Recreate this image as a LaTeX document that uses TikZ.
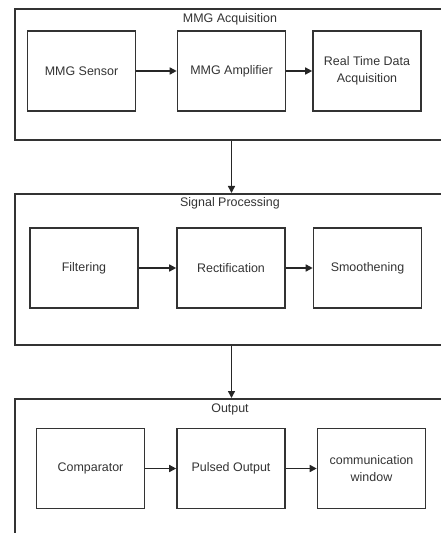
\documentclass[tikz,border=0pt]{standalone}
\usepackage{fontspec}
\setmainfont{Liberation Sans}
\usetikzlibrary{arrows.meta}
\begin{document}
\begin{tikzpicture}[x=1bp,y=-1bp,
  group/.style={draw=black!80,line width=1.6bp,anchor=north west,inner sep=0pt},
  blk/.style={draw=black!80,line width=1.6bp,minimum width=108bp,minimum height=80bp,inner sep=0pt,
    align=center,text=black!80,font=\fontsize{12.5}{16.5}\selectfont},
  ttl/.style={text=black!80,font=\fontsize{12.5}{14}\selectfont,inner sep=0pt},
  arr/.style={draw=black!85,line width=1.5bp,-{Triangle[length=7bp,width=7bp]}}]
\useasboundingbox (0,0) rectangle (441,533);
\clip (0,0) rectangle (441,533);
% groups
\node[group,minimum width=460bp,minimum height=131bp] (g1) at (14,8) {};
\node[group,minimum width=460bp,minimum height=151bp] (g2) at (14,193) {};
\node[group,minimum width=460bp,minimum height=160bp] (g3) at (14,398) {};
\node[ttl] (t1) at (230,19) {MMG Acquisition};
\node[ttl] (t2) at (230,203) {Signal Processing};
\node[ttl] (t3) at (230,409) {Output};
% row 1
\node[blk] (sensor) at (81.5,71) {MMG Sensor};
\node[blk] (amp) at (231.5,71) {MMG Amplifier};
\node[blk] (daq) at (367,71) {Real Time Data\\Acquisition};
% row 2
\node[blk] (filt) at (84,268) {Filtering};
\node[blk] (rect) at (231,268) {Rectification};
\node[blk] (smooth) at (367.5,268) {Smoothening};
% row 3
\node[blk] (comp) at (90.5,468.5) {Comparator};
\node[blk] (pulse) at (231,468.5) {Pulsed Output};
\node[blk] (comm) at (371.5,468.5) {communication\\window};
% arrows
\draw[arr] (sensor) -- (amp);
\draw[arr] (amp) -- (daq);
\draw[arr] (filt) -- (rect);
\draw[arr] (rect) -- (smooth);
\draw[arr] (comp) -- (pulse);
\draw[arr] (pulse) -- (comm);
\draw[arr] (amp |- g1.south) -- (amp |- g2.north);
\draw[arr] (amp |- g2.south) -- (amp |- g3.north);
\end{tikzpicture}
\end{document}
